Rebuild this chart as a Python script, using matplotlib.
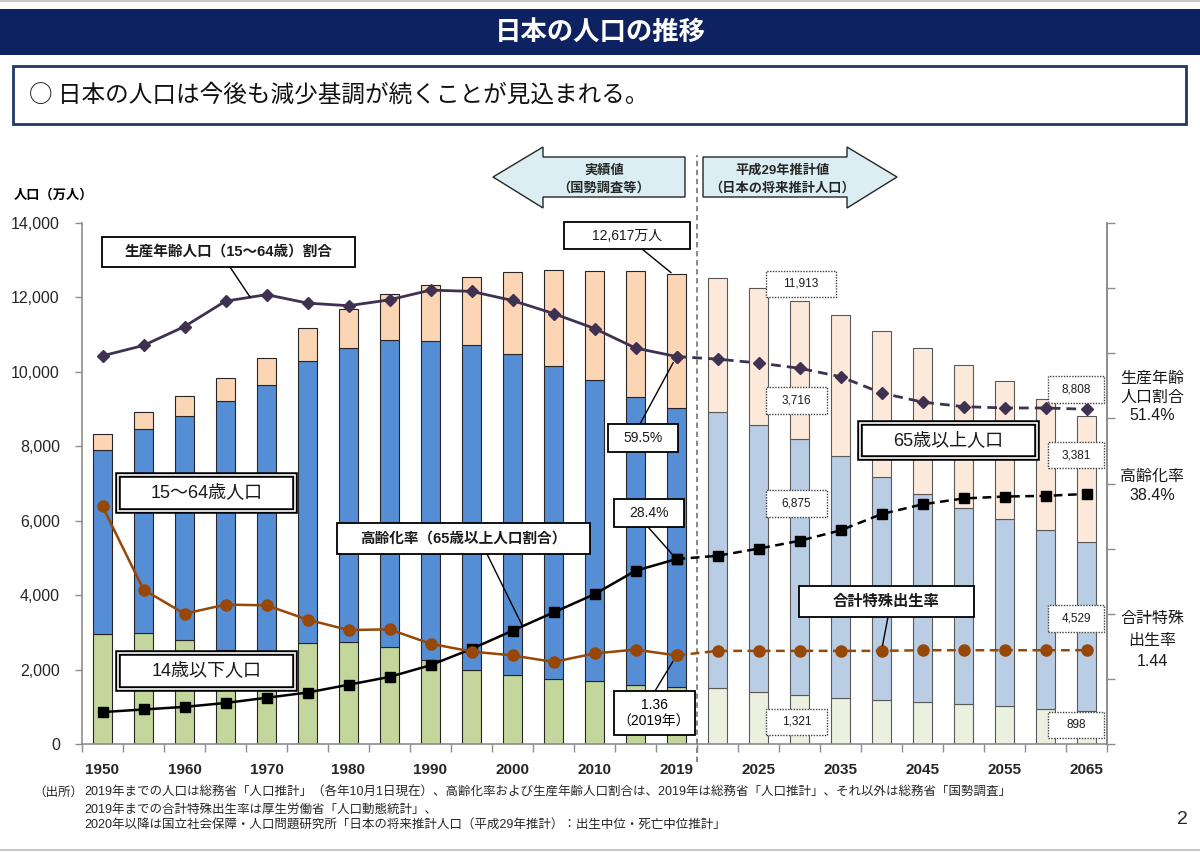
import matplotlib
matplotlib.use('Agg')
import matplotlib.pyplot as plt
from matplotlib.patches import Rectangle, Polygon
from matplotlib.lines import Line2D
import numpy as np

plt.rcParams['font.family'] = ['Liberation Sans', 'Noto Sans CJK JP', 'DejaVu Sans']

# ---------------- data ----------------
years = ['1950', '1955', '1960', '1965', '1970', '1975', '1980', '1985', '1990', '1995',
         '2000', '2005', '2010', '2015', '2019', '2020', '2025', '2030', '2035', '2040',
         '2045', '2050', '2055', '2060', '2065']
pop_0_14 = [2943, 2980, 2807, 2517, 2482, 2722, 2751, 2603, 2249, 2001, 1847, 1752, 1680,
            1595, 1521, 1507, 1407, 1321, 1246, 1194, 1138, 1077, 1012, 951, 898]
pop_15_64 = [4966, 5473, 6000, 6693, 7157, 7581, 7883, 8251, 8590, 8716, 8622, 8409, 8103,
             7728, 7507, 7406, 7170, 6875, 6494, 5978, 5584, 5275, 5028, 4793, 4529]
pop_65 = [411, 475, 535, 618, 733, 887, 1065, 1247, 1489, 1826, 2201, 2567, 2925,
          3387, 3589, 3619, 3677, 3716, 3782, 3921, 3919, 3841, 3704, 3540, 3381]
working_share = [59.6, 61.2, 64.1, 68.0, 69.0, 67.7, 67.3, 68.2, 69.7, 69.5, 68.1, 66.1, 63.8,
                 60.8, 59.5, 59.1, 58.5, 57.7, 56.4, 53.9, 52.5, 51.8, 51.6, 51.6, 51.4]
aging_rate = [4.9, 5.3, 5.7, 6.3, 7.1, 7.9, 9.1, 10.3, 12.1, 14.6, 17.4, 20.2, 23.0,
              26.6, 28.4, 28.9, 30.0, 31.2, 32.8, 35.3, 36.8, 37.7, 38.0, 38.1, 38.4]
tfr = [3.65, 2.37, 2.00, 2.14, 2.13, 1.91, 1.75, 1.76, 1.54, 1.42, 1.36, 1.26, 1.39,
       1.45, 1.36, 1.43, 1.43, 1.43, 1.43, 1.43, 1.44, 1.44, 1.44, 1.44, 1.44]
n_actual = 15  # 1950..2019 are actual values, 2020.. projections
y_ticks = [0, 2000, 4000, 6000, 8000, 10000, 12000, 14000]

W, H = 1200, 852
CJK = ['Noto Sans CJK JP', 'Liberation Sans', 'DejaVu Sans']


def fx(px):
    return px / W


def fy(py):
    return 1 - py / H


fig = plt.figure(figsize=(12, 8.52), dpi=100)
fig.patch.set_facecolor('white')

ax = fig.add_axes([fx(82), fy(744), fx(1107) - fx(82), fy(223) - fy(744)])
n = len(years)
x = np.arange(n)
is_act = x < n_actual

green = ['#c3d69b' if a else '#ebf1de' for a in is_act]
blue = ['#558ed5' if a else '#b9cde5' for a in is_act]
orange = ['#fcd5b5' if a else '#fde9d9' for a in is_act]
edges = ['#262626' if a else '#595959' for a in is_act]

p0 = np.array(pop_0_14)
p1 = np.array(pop_15_64)
p2 = np.array(pop_65)
bw = 0.48
ax.bar(x, p0, width=bw, color=green, edgecolor=edges, linewidth=0.8, zorder=2)
ax.bar(x, p1, bottom=p0, width=bw, color=blue, edgecolor=edges, linewidth=0.8, zorder=2)
ax.bar(x, p2, bottom=p0 + p1, width=bw, color=orange, edgecolor=edges, linewidth=0.8, zorder=2)

ax.set_xlim(-0.5, n - 0.5)
ax.set_ylim(0, 14000)
ax.set_yticks(y_ticks)
ax.set_yticklabels([f'{v:,}' for v in y_ticks], fontsize=11.5, color='#262626')
ax.set_xticks(x[::2])
ax.set_xticklabels(years[::2], fontsize=11, fontweight='bold', color='#262626')
ax.set_xticks(np.arange(-0.5, n, 1), minor=True)
ax.tick_params(axis='x', which='major', length=0, pad=14)
ax.tick_params(axis='x', which='minor', length=6, color='#8c8c8c', width=1)
ax.tick_params(axis='y', length=5, color='#8c8c8c', width=1, pad=11)
for s in ['left', 'bottom', 'right']:
    ax.spines[s].set_color('#8c8c8c')
    ax.spines[s].set_linewidth(1.2)
ax.spines['top'].set_visible(False)

# right axis (percent), no labels
ax2 = ax.twinx()
ax2.set_ylim(0, 80)
ax2.set_yticks(range(0, 81, 10))
ax2.set_yticklabels([])
ax2.tick_params(axis='y', length=6, color='#8c8c8c', width=1)
for s in ['left', 'bottom', 'top']:
    ax2.spines[s].set_visible(False)
ax2.spines['right'].set_color('#8c8c8c')
ax2.spines['right'].set_linewidth(1.2)

# hidden axis for TFR (0-8)
ax3 = ax.twinx()
ax3.set_ylim(0, 8)
ax3.set_axis_off()

dash = (0, (3.5, 2.2))
purple = '#3f3151'
brown = '#974706'
a = n_actual
ax2.plot(x[:a], working_share[:a], color=purple, lw=2, marker='D', ms=6, zorder=5)
ax2.plot(x[a - 1:], working_share[a - 1:], color=purple, lw=2, ls=dash, marker='D', ms=6, zorder=5)
ax2.plot(x[:a], aging_rate[:a], color='black', lw=1.8, marker='s', ms=7.5, zorder=5)
ax2.plot(x[a - 1:], aging_rate[a - 1:], color='black', lw=1.8, ls=dash, marker='s', ms=7.5, zorder=5)
ax3.plot(x[:a], tfr[:a], color=brown, lw=1.8, marker='o', ms=8, zorder=5)
ax3.plot(x[a - 1:], tfr[a - 1:], color=brown, lw=1.8, ls=dash, marker='o', ms=8, zorder=5)

# vertical separator
ax.axvline(a - 0.5, ymin=-0.035, ymax=1.13, clip_on=False, color='#7f7f7f', lw=1.3,
           ls=(0, (3, 2)), zorder=3)

# ---------------- header ----------------
fig.add_artist(Line2D([0, 1], [fy(1), fy(1)], transform=fig.transFigure, color='#c8c8c8', lw=1.5))
fig.add_artist(Rectangle((0, fy(55)), 1, fy(9) - fy(55), transform=fig.transFigure,
                         facecolor='#0e2261', edgecolor='none', zorder=1))
fig.text(0.5, fy(32), '日本の人口の推移', color='white', fontsize=19, fontweight='bold',
         ha='center', va='center', family=CJK)
fig.add_artist(Rectangle((fx(13), fy(124)), fx(1186) - fx(13), fy(66) - fy(124),
                         transform=fig.transFigure, facecolor='white', edgecolor='#1f3864',
                         lw=2, zorder=1))
fig.text(fx(29), fy(95), '○ 日本の人口は今後も減少基調が続くことが見込まれる。', fontsize=17,
         ha='left', va='center', color='#111111', family=CJK)

fig.text(fx(14), fy(195), '人口（万人）', fontsize=9.5, fontweight='bold', ha='left', va='center')

# arrows
arrow_fill = '#daeef3'
left_pts = [(493, 177), (543, 147), (543, 157), (685, 157), (685, 197), (543, 197), (543, 208)]
right_pts = [(897, 177), (847, 147), (847, 157), (703, 157), (703, 197), (847, 197), (847, 208)]
for pts in (left_pts, right_pts):
    fig.add_artist(Polygon([(fx(p[0]), fy(p[1])) for p in pts], closed=True,
                           transform=fig.transFigure, facecolor=arrow_fill,
                           edgecolor='#262626', lw=1, zorder=5))
for (tx, ty, t) in [(604, 171, '実績値'), (604, 188, '（国勢調査等）'),
                    (783, 171, '平成29年推計値'), (782, 188, '（日本の将来推計人口）')]:
    fig.text(fx(tx), fy(ty), t, fontsize=9.5, fontweight='bold', ha='center', va='center',
             color='#262626', zorder=6)


# ---------------- callout boxes ----------------
def box(x0, y0, x1, y1, text, fs, weight='normal', kind='solid'):
    xy = (fx(x0), fy(y1))
    w = fx(x1) - fx(x0)
    h = fy(y0) - fy(y1)
    if kind == 'dotted':
        fig.add_artist(Rectangle(xy, w, h, transform=fig.transFigure, facecolor='white',
                                 edgecolor='#404040', lw=1, ls=(0, (1, 1)), zorder=10))
    elif kind == 'double':
        fig.add_artist(Rectangle(xy, w, h, transform=fig.transFigure, facecolor='white',
                                 edgecolor='black', lw=4, zorder=10))
        fig.add_artist(Rectangle(xy, w, h, transform=fig.transFigure, facecolor='none',
                                 edgecolor='white', lw=1.2, zorder=10.5))
    else:
        fig.add_artist(Rectangle(xy, w, h, transform=fig.transFigure, facecolor='white',
                                 edgecolor='black', lw=1.3, zorder=10))
    if text:
        fig.text(fx((x0 + x1) / 2), fy((y0 + y1) / 2), text, fontsize=fs, fontweight=weight,
                 ha='center', va='center', color='#1a1a1a', zorder=11)


box(102, 237, 355, 267, '生産年齢人口（15〜64歳）割合', 10.5, 'bold')
box(564, 222, 690, 249, '12,617万人', 10)
box(766, 271, 836, 297, '11,913', 8.5, kind='dotted')
box(766, 387, 827, 414, '3,716', 8.5, kind='dotted')
box(766, 490, 827, 517, '6,875', 8.5, kind='dotted')
box(766, 709, 827, 735, '1,321', 8.5, kind='dotted')
box(1048, 376, 1104, 403, '8,808', 8.5, kind='dotted')
box(1048, 442, 1104, 468, '3,381', 8.5, kind='dotted')
box(1048, 605, 1104, 632, '4,529', 8.5, kind='dotted')
box(1048, 712, 1104, 738, '898', 8.5, kind='dotted')
box(860, 423, 1037, 458, '65歳以上人口', 13, kind='double')
box(118, 475, 295, 511, '15〜64歳人口', 13, kind='double')
box(118, 653, 295, 689, '14歳以下人口', 13, kind='double')
box(337, 523, 590, 554, '高齢化率（65歳以上人口割合）', 10.5, 'bold')
box(799, 586, 974, 617, '合計特殊出生率', 11, 'bold')
box(608, 424, 678, 452, '59.5%', 10)
box(614, 499, 684, 527, '28.4%', 10)
box(614, 691, 695, 735, '', 10)
fig.text(fx(654), fy(705), '1.36', fontsize=10, ha='center', va='center', zorder=11)
fig.text(fx(654), fy(722), '（2019年）', fontsize=10, ha='center', va='center', zorder=11)

# leader lines
lp = dict(arrowstyle='-', color='black', lw=1, shrinkA=0)


def leader_px(x0, y0, x1, y1):
    fig.add_artist(Line2D([fx(x0), fx(x1)], [fy(y0), fy(y1)], transform=fig.transFigure,
                          color='black', lw=1, zorder=9))


def leader_data(axis, x0, y0, xi, yv, shrink=4):
    axis.annotate('', xy=(xi, yv), xycoords='data', xytext=(fx(x0), fy(y0)),
                  textcoords='figure fraction', annotation_clip=False,
                  arrowprops=dict(lp, shrinkB=shrink), zorder=9)


leader_px(230, 267, 250, 297)
leader_px(487, 554, 522, 625)
leader_data(ax, 642, 249, a - 1 - 0.08, p0[a - 1] + p1[a - 1] + p2[a - 1], 2)
leader_data(ax2, 640, 424, a - 1, working_share[a - 1], 5)
leader_data(ax2, 648, 527, a - 1, aging_rate[a - 1], 5)
leader_data(ax3, 655, 691, a - 1, tfr[a - 1], 5)
leader_data(ax3, 888, 617, 19, tfr[19], 4)

# right-side labels
for (ty, t) in [(378, '生産年齢'), (397, '人口割合'), (416, '51.4%'),
                (476, '高齢化率'), (495, '38.4%'),
                (618, '合計特殊'), (640, '出生率'), (661, '1.44')]:
    fig.text(fx(1152), fy(ty), t, fontsize=11.5, ha='center', va='center', color='#1a1a1a')

# ---------------- footer ----------------
fig.text(fx(33), fy(793), '（出所）', fontsize=9, ha='left', va='center', color='#262626')
notes = ['2019年までの人口は総務省「人口推計」（各年10月1日現在）、高齢化率および生産年齢人口割合は、2019年は総務省「人口推計」、それ以外は総務省「国勢調査」',
         '2019年までの合計特殊出生率は厚生労働省「人口動態統計」、',
         '2020年以降は国立社会保障・人口問題研究所「日本の将来推計人口（平成29年推計）：出生中位・死亡中位推計」']
for i, t in enumerate(notes):
    fig.text(fx(84), fy(793 + 16.5 * i), t, fontsize=9, ha='left', va='center', color='#262626')
fig.text(fx(1182), fy(820), '2', fontsize=14, ha='center', va='center', color='#262626')
fig.add_artist(Line2D([0, 1], [fy(850), fy(850)], transform=fig.transFigure, color='#c8c8c8', lw=1.5))

fig.savefig('out.png', dpi=100)
